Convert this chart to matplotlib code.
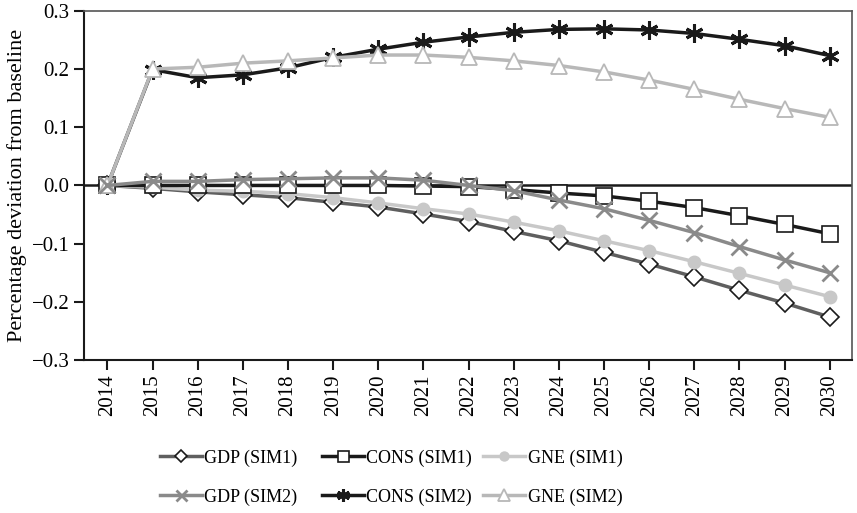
import numpy as np
import matplotlib.pyplot as plt

plt.rcParams['font.family'] = ['Liberation Serif', 'DejaVu Serif']
plt.rcParams['axes.unicode_minus'] = True

years = list(range(2014, 2031))

gdp_sim1 = [0.0, -0.005, -0.011, -0.016, -0.021, -0.029, -0.037, -0.049, -0.062,
            -0.079, -0.095, -0.115, -0.135, -0.157, -0.180, -0.202, -0.226]
cons_sim1 = [0.0, 0.0, 0.0, 0.0, 0.0, 0.0, 0.0, -0.001, -0.002,
             -0.007, -0.013, -0.018, -0.027, -0.038, -0.052, -0.067, -0.083]
gne_sim1 = [0.0, -0.003, -0.008, -0.010, -0.014, -0.021, -0.030, -0.040, -0.049,
            -0.063, -0.078, -0.095, -0.112, -0.131, -0.151, -0.171, -0.191]
gdp_sim2 = [0.0, 0.007, 0.007, 0.010, 0.0115, 0.013, 0.013, 0.009, 0.0,
            -0.009, -0.025, -0.040, -0.060, -0.081, -0.105, -0.128, -0.150]
cons_sim2 = [0.0, 0.199, 0.185, 0.190, 0.202, 0.220, 0.234, 0.246, 0.255,
             0.263, 0.268, 0.269, 0.267, 0.261, 0.251, 0.240, 0.223]
gne_sim2 = [0.0, 0.200, 0.203, 0.210, 0.214, 0.219, 0.224, 0.224, 0.220,
            0.214, 0.206, 0.195, 0.181, 0.165, 0.148, 0.132, 0.117]

fig = plt.figure(figsize=(8.57, 5.13), dpi=100)
ax = fig.add_axes([0.098, 0.298, 0.896, 0.681])

ax.axhline(0, color='#1a1a1a', lw=1.8, zorder=1)

lw = 2.5
ax.plot(years, gdp_sim1, color='#5f5f5f', lw=lw, marker='D', ms=9,
        mfc='white', mec='#1a1a1a', mew=1.2, label='GDP (SIM1)', zorder=3)
ax.plot(years, cons_sim1, color='#1a1a1a', lw=lw, marker='s', ms=11,
        mfc='white', mec='#1a1a1a', mew=1.2, label='CONS (SIM1)', zorder=4)
ax.plot(years, gne_sim1, color='#c8c8c8', lw=lw, marker='o', ms=9,
        mfc='#c8c8c8', mec='#c8c8c8', label='GNE (SIM1)', zorder=3)
ax.plot(years, gdp_sim2, color='#8a8a8a', lw=lw, marker='x', ms=11,
        mec='#8a8a8a', mew=2, label='GDP (SIM2)', zorder=5)
ax.plot(years, cons_sim2, color='#1a1a1a', lw=lw, marker=(6, 2, 0), ms=13,
        mec='#1a1a1a', mew=2.2, label='CONS (SIM2)', zorder=3)
ax.plot(years, gne_sim2, color='#b8b8b8', lw=lw, marker='^', ms=12,
        mfc='white', mec='#b8b8b8', mew=1.3, label='GNE (SIM2)', zorder=4)

ax.set_xlim(2013.48, 2030.49)
ax.set_ylim(-0.3, 0.3)
ax.set_xticks(years)
ax.set_xticklabels([str(y) for y in years], rotation=90, fontsize=15)
ax.set_yticks(np.arange(-0.3, 0.31, 0.1))
ax.set_yticklabels(['\u22120.3', '\u22120.2', '\u22120.1', '0.0', '0.1', '0.2', '0.3'], fontsize=15)
ax.tick_params(direction='out', length=7, width=1.5, color='#1a1a1a')
ax.set_ylabel('Percentage deviation from baseline', fontsize=16, labelpad=3)

for side in ['left', 'bottom']:
    ax.spines[side].set_linewidth(1.5)
    ax.spines[side].set_color('#1a1a1a')
for side in ['top', 'right']:
    ax.spines[side].set_linewidth(1.2)
    ax.spines[side].set_color('#555555')

# legend entries placed one by one, 3 columns x 2 rows
handles, labels = ax.get_legend_handles_labels()
col_x = [0.187, 0.376, 0.564]
row_y = [0.107, 0.031]
for i, (h, l) in enumerate(zip(handles, labels)):
    leg = fig.legend([h], [l], loc='center left',
                     bbox_to_anchor=(col_x[i % 3], row_y[i // 3]),
                     frameon=False, fontsize=13, handlelength=2.3,
                     handletextpad=0.15, borderpad=0, borderaxespad=0,
                     markerscale=0.72)

fig.savefig('out.png', dpi=100)
